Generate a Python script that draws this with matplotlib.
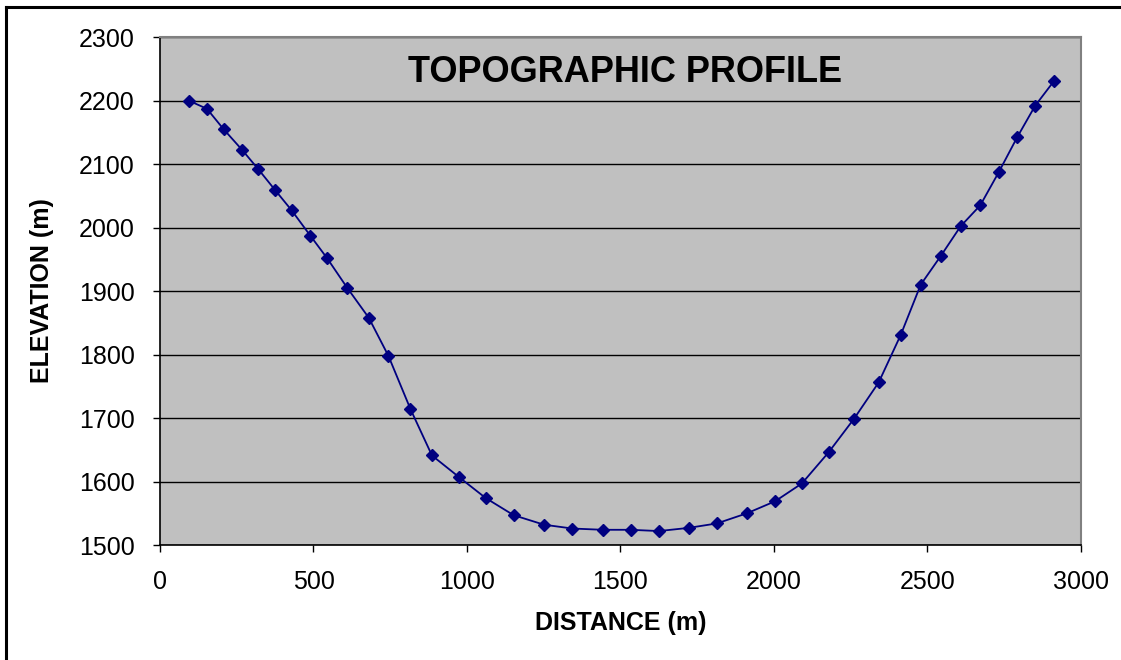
import matplotlib.pyplot as plt
from matplotlib.lines import Line2D

# distance along profile (m) and elevation (m)
distance = [93, 153, 207, 268, 320, 375, 429, 490, 544, 610, 680, 744, 816,
            886, 974, 1061, 1152, 1251, 1343, 1442, 1533, 1625, 1722, 1814,
            1912, 2004, 2091, 2178, 2261, 2341, 2413, 2478, 2543, 2608, 2672,
            2732, 2792, 2851, 2911]
elevation = [2200, 2187, 2155, 2122, 2092, 2059, 2027, 1987, 1952, 1905, 1858,
             1798, 1714, 1641, 1607, 1574, 1547, 1532, 1526, 1524, 1524, 1522,
             1527, 1534, 1550, 1569, 1597, 1646, 1699, 1756, 1831, 1910, 1955,
             2002, 2035, 2087, 2142, 2192, 2230]

x_ticks = [0, 500, 1000, 1500, 2000, 2500, 3000]
y_ticks = [1500, 1600, 1700, 1800, 1900, 2000, 2100, 2200, 2300]

plt.rcParams['font.family'] = ['Liberation Sans', 'DejaVu Sans']

fig = plt.figure(figsize=(11.21, 6.60), dpi=100)
ax = fig.add_axes([0.1427, 0.1742, 0.8216, 0.7697])
ax.set_facecolor('#C0C0C0')

ax.plot(distance, elevation, color='#000080', linewidth=1.3, marker='D',
        markersize=6.5, markerfacecolor='#000080', markeredgecolor='#000080',
        zorder=3)

ax.set_xlim(0, 3000)
ax.set_ylim(1500, 2300)
ax.set_xticks(x_ticks)
ax.set_yticks(y_ticks)
ax.yaxis.grid(True, color='black', linewidth=1.0)
ax.set_axisbelow(True)

ax.tick_params(axis='both', direction='out', length=5, width=1,
               labelsize=18, color='black')
ax.tick_params(axis='x', pad=13)
ax.tick_params(axis='y', pad=13)

for side in ('top', 'right'):
    ax.spines[side].set_color('#808080')
    ax.spines[side].set_linewidth(1.5)
for side in ('left', 'bottom'):
    ax.spines[side].set_color('black')
    ax.spines[side].set_linewidth(1.2)

ax.set_xlabel('DISTANCE (m)', fontsize=18, fontweight='bold', labelpad=12)
ax.set_ylabel('ELEVATION (m)', fontsize=18, fontweight='bold', labelpad=18)
ax.text(0.505, 0.931, 'TOPOGRAPHIC PROFILE', transform=ax.transAxes,
        ha='center', va='center', fontsize=26, fontweight='bold')

# outer frame (top and left edges only)
fig.add_artist(Line2D([6 / 1121, 1], [1 - 7 / 660, 1 - 7 / 660],
                      transform=fig.transFigure, color='black', linewidth=2.2))
fig.add_artist(Line2D([6 / 1121, 6 / 1121], [0, 1 - 7 / 660],
                      transform=fig.transFigure, color='black', linewidth=2.2))

fig.savefig('out.png', dpi=100)
